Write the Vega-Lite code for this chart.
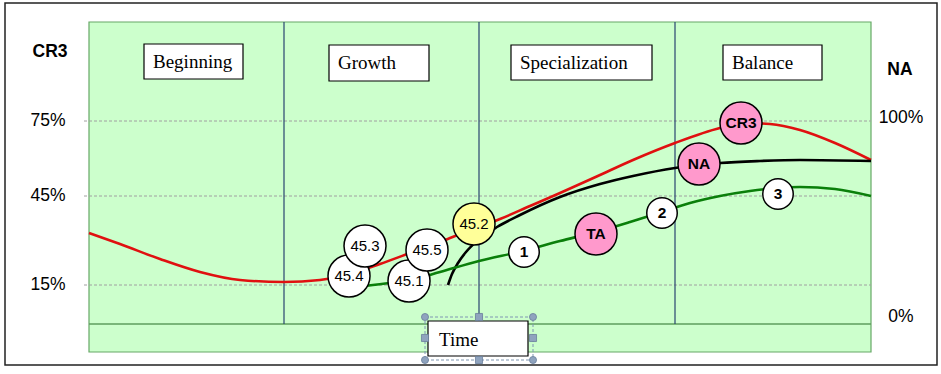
{
  "$schema": "https://vega.github.io/schema/vega-lite/v6.json",
  "width": 941,
  "height": 374,
  "autosize": {"type": "fit", "contains": "padding"},
  "padding": 0,
  "background": "white",
  "config": {"view": {"stroke": null}},
  "datasets": {
    "frames": [
      {"name": "outer", "x": 5, "x2": 937, "y": 3, "y2": 365},
      {"name": "plot", "x": 89, "x2": 871, "y": 22, "y2": 352}
    ],
    "grid": [
      {"y": 121}, {"y": 196}, {"y": 285}
    ],
    "stages": [
      {"x": 284}, {"x": 479}, {"x": 675}
    ],
    "boxes": [
      {"label": "Beginning", "x": 144, "x2": 243, "y": 44, "y2": 79},
      {"label": "Growth", "x": 329, "x2": 429, "y": 45, "y2": 81},
      {"label": "Specialization", "x": 511, "x2": 652, "y": 45, "y2": 80},
      {"label": "Balance", "x": 723, "x2": 822, "y": 45, "y2": 80}
    ],
    "curves": [
      {"s": "CR3", "t": 89, "v": 233}, {"s": "CR3", "t": 120, "v": 244}, {"s": "CR3", "t": 160, "v": 259},
      {"s": "CR3", "t": 200, "v": 272}, {"s": "CR3", "t": 240, "v": 280}, {"s": "CR3", "t": 284, "v": 282},
      {"s": "CR3", "t": 320, "v": 280}, {"s": "CR3", "t": 350, "v": 274}, {"s": "CR3", "t": 380, "v": 264},
      {"s": "CR3", "t": 410, "v": 253}, {"s": "CR3", "t": 445, "v": 240}, {"s": "CR3", "t": 470, "v": 230},
      {"s": "CR3", "t": 500, "v": 219}, {"s": "CR3", "t": 530, "v": 206}, {"s": "CR3", "t": 560, "v": 193},
      {"s": "CR3", "t": 600, "v": 175}, {"s": "CR3", "t": 633, "v": 160}, {"s": "CR3", "t": 675, "v": 143},
      {"s": "CR3", "t": 720, "v": 128}, {"s": "CR3", "t": 745, "v": 123}, {"s": "CR3", "t": 770, "v": 124},
      {"s": "CR3", "t": 800, "v": 130}, {"s": "CR3", "t": 835, "v": 143}, {"s": "CR3", "t": 871, "v": 160},
      {"s": "NA", "t": 448, "v": 285}, {"s": "NA", "t": 452, "v": 274}, {"s": "NA", "t": 458, "v": 263},
      {"s": "NA", "t": 466, "v": 252}, {"s": "NA", "t": 477, "v": 241}, {"s": "NA", "t": 497, "v": 227},
      {"s": "NA", "t": 520, "v": 215}, {"s": "NA", "t": 560, "v": 197}, {"s": "NA", "t": 600, "v": 184},
      {"s": "NA", "t": 633, "v": 176}, {"s": "NA", "t": 675, "v": 168}, {"s": "NA", "t": 720, "v": 163},
      {"s": "NA", "t": 760, "v": 161}, {"s": "NA", "t": 800, "v": 160}, {"s": "NA", "t": 871, "v": 161},
      {"s": "TA", "t": 365, "v": 286}, {"s": "TA", "t": 390, "v": 283}, {"s": "TA", "t": 411, "v": 280},
      {"s": "TA", "t": 440, "v": 272}, {"s": "TA", "t": 479, "v": 261}, {"s": "TA", "t": 523, "v": 251},
      {"s": "TA", "t": 560, "v": 241}, {"s": "TA", "t": 596, "v": 232}, {"s": "TA", "t": 630, "v": 222},
      {"s": "TA", "t": 662, "v": 212}, {"s": "TA", "t": 690, "v": 203}, {"s": "TA", "t": 720, "v": 196},
      {"s": "TA", "t": 750, "v": 191}, {"s": "TA", "t": 777, "v": 188}, {"s": "TA", "t": 800, "v": 187},
      {"s": "TA", "t": 835, "v": 189}, {"s": "TA", "t": 871, "v": 196}
    ],
    "circles": [
      {"label": "45.4", "kind": "year", "t": 349, "v": 276},
      {"label": "45.3", "kind": "year", "t": 365, "v": 246},
      {"label": "45.1", "kind": "year", "t": 409, "v": 281},
      {"label": "45.5", "kind": "year", "t": 427, "v": 250},
      {"label": "45.2", "kind": "highlight", "t": 474, "v": 224},
      {"label": "1", "kind": "step", "t": 524, "v": 252},
      {"label": "TA", "kind": "series", "t": 596, "v": 234},
      {"label": "2", "kind": "step", "t": 662, "v": 213},
      {"label": "NA", "kind": "series", "t": 699, "v": 164},
      {"label": "CR3", "kind": "series", "t": 741, "v": 123},
      {"label": "3", "kind": "step", "t": 778, "v": 194}
    ],
    "sideLabels": [
      {"label": "75%", "t": 48, "v": 121},
      {"label": "45%", "t": 48, "v": 196},
      {"label": "15%", "t": 48, "v": 285},
      {"label": "100%", "t": 901, "v": 118},
      {"label": "0%", "t": 901, "v": 317}
    ],
    "titles": [
      {"label": "CR3", "t": 50, "v": 52},
      {"label": "NA", "t": 900, "v": 70}
    ],
    "handles": [
      {"shape": "circle", "t": 425, "v": 317}, {"shape": "circle", "t": 533, "v": 317},
      {"shape": "circle", "t": 425, "v": 360}, {"shape": "circle", "t": 533, "v": 360},
      {"shape": "square", "t": 479, "v": 317}, {"shape": "square", "t": 479, "v": 360},
      {"shape": "square", "t": 425, "v": 338}, {"shape": "square", "t": 533, "v": 338}
    ]
  },
  "layer": [
    {
      "data": {"name": "frames"},
      "transform": [{"filter": "datum.name === 'outer'"}],
      "mark": {"type": "rect", "fill": "white", "stroke": "#222222", "strokeWidth": 1.5},
      "encoding": {
        "x": {"field": "x", "type": "quantitative", "scale": {"domain": [0, 941], "nice": false, "zero": false}, "axis": null},
        "x2": {"field": "x2"},
        "y": {"field": "y", "type": "quantitative", "scale": {"domain": [0, 374], "reverse": true, "nice": false, "zero": false}, "axis": null},
        "y2": {"field": "y2"}
      }
    },
    {
      "data": {"name": "frames"},
      "transform": [{"filter": "datum.name === 'plot'"}],
      "mark": {"type": "rect", "fill": "#CCFFCC", "stroke": "#66A866", "strokeWidth": 1.2},
      "encoding": {
        "x": {"field": "x", "type": "quantitative"},
        "x2": {"field": "x2"},
        "y": {"field": "y", "type": "quantitative"},
        "y2": {"field": "y2"}
      }
    },
    {
      "data": {"name": "grid"},
      "mark": {"type": "rule", "stroke": "#A0A0A0", "strokeWidth": 1, "strokeDash": [3, 2]},
      "encoding": {
        "x": {"datum": 84, "type": "quantitative"},
        "x2": {"datum": 871},
        "y": {"field": "y", "type": "quantitative"}
      }
    },
    {
      "data": {"values": [{"y": 324}]},
      "mark": {"type": "rule", "stroke": "#5E9E5E", "strokeWidth": 1.5},
      "encoding": {
        "x": {"datum": 89, "type": "quantitative"},
        "x2": {"datum": 871},
        "y": {"field": "y", "type": "quantitative"}
      }
    },
    {
      "data": {"name": "stages"},
      "mark": {"type": "rule", "stroke": "#294470", "strokeWidth": 1.2},
      "encoding": {
        "x": {"field": "x", "type": "quantitative"},
        "y": {"datum": 22, "type": "quantitative"},
        "y2": {"datum": 324}
      }
    },
    {
      "data": {"name": "boxes"},
      "mark": {"type": "rect", "fill": "white", "stroke": "black", "strokeWidth": 1.2},
      "encoding": {
        "x": {"field": "x", "type": "quantitative"},
        "x2": {"field": "x2"},
        "y": {"field": "y", "type": "quantitative"},
        "y2": {"field": "y2"}
      }
    },
    {
      "data": {"name": "boxes"},
      "mark": {"type": "text", "font": "Liberation Serif", "fontSize": 19, "align": "left", "baseline": "middle", "color": "black", "dx": 9, "dy": 18},
      "encoding": {
        "x": {"field": "x", "type": "quantitative"},
        "y": {"field": "y", "type": "quantitative"},
        "text": {"field": "label"}
      }
    },
    {
      "data": {"name": "curves"},
      "mark": {"type": "line", "interpolate": "monotone", "strokeWidth": 2.6},
      "encoding": {
        "x": {"field": "t", "type": "quantitative"},
        "y": {"field": "v", "type": "quantitative"},
        "detail": {"field": "s"},
        "order": {"field": "t"},
        "color": {"field": "s", "type": "nominal", "scale": {"domain": ["CR3", "NA", "TA"], "range": ["#E01010", "#000000", "#0A7F0A"]}, "legend": null}
      }
    },
    {
      "data": {"name": "circles"},
      "transform": [{"filter": "datum.kind !== 'step'"}],
      "mark": {"type": "point", "shape": "circle", "filled": true, "stroke": "black", "strokeWidth": 1.5, "opacity": 1, "size": 1764},
      "encoding": {
        "x": {"field": "t", "type": "quantitative"},
        "y": {"field": "v", "type": "quantitative"},
        "fill": {"field": "kind", "type": "nominal", "scale": {"domain": ["year", "highlight", "step", "series"], "range": ["#FFFFFF", "#FFFF99", "#FFFFFF", "#FF99CC"]}, "legend": null}
      }
    },
    {
      "data": {"name": "circles"},
      "transform": [{"filter": "datum.kind === 'step'"}],
      "mark": {"type": "point", "shape": "circle", "filled": true, "fill": "#FFFFFF", "stroke": "black", "strokeWidth": 1.5, "opacity": 1, "size": 930},
      "encoding": {
        "x": {"field": "t", "type": "quantitative"},
        "y": {"field": "v", "type": "quantitative"}
      }
    },
    {
      "data": {"name": "circles"},
      "transform": [{"filter": "datum.kind === 'year' || datum.kind === 'highlight'"}],
      "mark": {"type": "text", "font": "Liberation Sans", "fontSize": 15, "align": "center", "baseline": "middle", "color": "black"},
      "encoding": {
        "x": {"field": "t", "type": "quantitative"},
        "y": {"field": "v", "type": "quantitative"},
        "text": {"field": "label"}
      }
    },
    {
      "data": {"name": "circles"},
      "transform": [{"filter": "datum.kind === 'step' || datum.kind === 'series'"}],
      "mark": {"type": "text", "font": "Liberation Sans", "fontSize": 15.5, "fontWeight": "bold", "align": "center", "baseline": "middle", "color": "black"},
      "encoding": {
        "x": {"field": "t", "type": "quantitative"},
        "y": {"field": "v", "type": "quantitative"},
        "text": {"field": "label"}
      }
    },
    {
      "data": {"values": [{"x": 425, "x2": 533, "y": 317, "y2": 360}]},
      "mark": {"type": "rect", "fill": null, "stroke": "#7F96B2", "strokeWidth": 1, "strokeDash": [3, 2]},
      "encoding": {
        "x": {"field": "x", "type": "quantitative"},
        "x2": {"field": "x2"},
        "y": {"field": "y", "type": "quantitative"},
        "y2": {"field": "y2"}
      }
    },
    {
      "data": {"values": [{"label": "Time", "x": 428, "x2": 528, "y": 321, "y2": 356}]},
      "mark": {"type": "rect", "fill": "white", "stroke": "black", "strokeWidth": 1.2},
      "encoding": {
        "x": {"field": "x", "type": "quantitative"},
        "x2": {"field": "x2"},
        "y": {"field": "y", "type": "quantitative"},
        "y2": {"field": "y2"}
      }
    },
    {
      "data": {"values": [{"label": "Time", "x": 439, "y": 340}]},
      "mark": {"type": "text", "font": "Liberation Serif", "fontSize": 19, "align": "left", "baseline": "middle", "color": "black"},
      "encoding": {
        "x": {"field": "x", "type": "quantitative"},
        "y": {"field": "y", "type": "quantitative"},
        "text": {"field": "label"}
      }
    },
    {
      "data": {"name": "handles"},
      "mark": {"type": "point", "filled": true, "fill": "#8FA3BE", "stroke": "#6A7F9C", "strokeWidth": 0.8, "opacity": 1, "size": 50},
      "encoding": {
        "x": {"field": "t", "type": "quantitative"},
        "y": {"field": "v", "type": "quantitative"},
        "shape": {"field": "shape", "type": "nominal", "scale": {"domain": ["circle", "square"], "range": ["circle", "square"]}, "legend": null}
      }
    },
    {
      "data": {"name": "sideLabels"},
      "mark": {"type": "text", "font": "Liberation Sans", "fontSize": 17.5, "align": "center", "baseline": "middle", "color": "black"},
      "encoding": {
        "x": {"field": "t", "type": "quantitative"},
        "y": {"field": "v", "type": "quantitative"},
        "text": {"field": "label"}
      }
    },
    {
      "data": {"name": "titles"},
      "mark": {"type": "text", "font": "Liberation Sans", "fontSize": 17.5, "fontWeight": "bold", "align": "center", "baseline": "middle", "color": "black"},
      "encoding": {
        "x": {"field": "t", "type": "quantitative"},
        "y": {"field": "v", "type": "quantitative"},
        "text": {"field": "label"}
      }
    }
  ]
}
